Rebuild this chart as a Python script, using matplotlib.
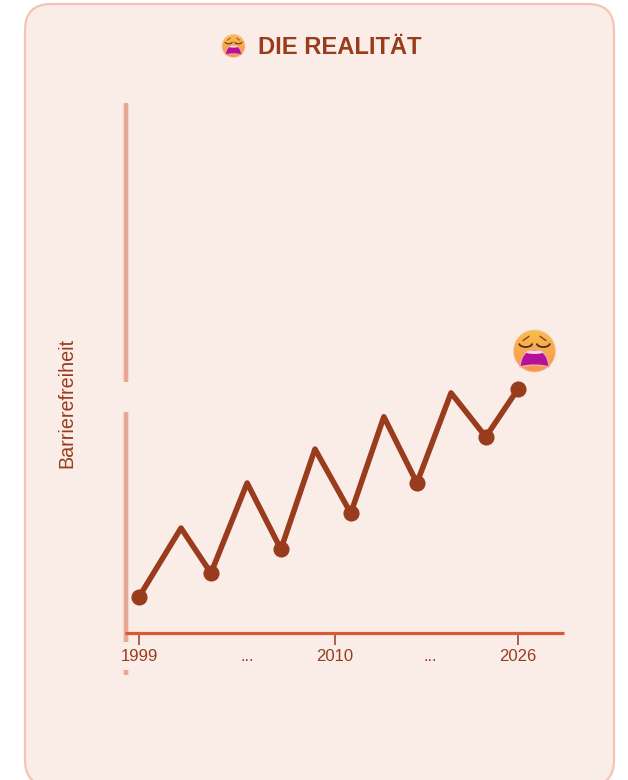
"""Line chart 'Die Realitaet': accessibility creeping up in a saw-tooth, 1999-2026."""
import numpy as np
import matplotlib
matplotlib.use("Agg")
import matplotlib.pyplot as plt
from matplotlib.patches import Arc, Circle, Ellipse, FancyBboxPatch, PathPatch
from matplotlib.path import Path

plt.rcParams["font.family"] = ["Liberation Sans", "DejaVu Sans"]

# x is in "steps along the axis", the year labels are not evenly spaced
x_pos = [0, 1.22, 2.09, 3.14, 4.12, 5.11, 6.15, 7.11, 8.07, 9.06, 10.07, 11.0]
values = [6.8, 19.8, 11.3, 28.3, 15.8, 34.7, 22.6, 40.8, 28.3, 45.3, 37.0, 46.0]
dot_idx = [0, 2, 4, 6, 8, 10, 11]

year_ticks = [0, 5.69, 11.0]
year_labels = ["1999", "2010", "2026"]
gap_ticks = [3.14, 8.45]
gap_label = "..."

title = "DIE REALITÄT"
ylabel = "Barrierefreiheit"

BG = "#FAECE7"
BORDER = "#F5C4B3"
DARK = "#993C1D"
AXIS = "#D85A30"
STRIPE = "#E8A692"

W, H = 628, 780


def emoji(ax, cx, cy, d):
    """Weary face, the reference has it as a colour emoji (no such font here)."""
    r = d / 2
    grad = np.linspace(0, 1, 64)[:, None]
    top, bot = np.array([0.98, 0.74, 0.30]), np.array([0.97, 0.58, 0.30])
    rgb = (top + (bot - top) * grad)[:, None, :]
    im = ax.imshow(rgb, extent=(cx - r, cx + r, cy + r, cy - r), aspect="auto",
                   interpolation="bilinear", zorder=5)
    im.set_clip_path(Circle((cx, cy), r, transform=ax.transData))
    ax.add_patch(Circle((cx, cy), r, fc="none", ec="#f3c9a8", lw=0.6, zorder=6))
    # mouth
    verts = [(cx - .70 * r, cy + .76 * r), (cx - .62 * r, cy - .06 * r),
             (cx, cy - .06 * r), (cx + .62 * r, cy - .06 * r),
             (cx + .70 * r, cy + .76 * r), (cx, cy + .58 * r),
             (cx - .70 * r, cy + .76 * r)]
    codes = [Path.MOVETO, Path.CURVE3, Path.CURVE3, Path.CURVE3, Path.CURVE3,
             Path.CURVE3, Path.CURVE3]
    ax.add_patch(PathPatch(Path(verts, codes), fc="#B4109A", ec="#F4A7A0",
                           lw=d / 40, zorder=7))
    ax.add_patch(Ellipse((cx, cy + .06 * r), .8 * r, .16 * r, fc="#F6D8E0",
                         ec="none", zorder=8))
    # closed eyes and brows
    lw = max(0.6, d / 32)
    for s in (-1, 1):
        ex = cx + s * .42 * r
        ax.add_patch(Arc((ex, cy - .36 * r), .62 * r, .34 * r, theta1=0, theta2=180,
                         color="#4a2f1a", lw=lw, zorder=7))
        ax.plot([ex - .16 * r * s, ex + .12 * r * s],
                [cy - .70 * r, cy - .50 * r],
                color="#7a4a20", lw=lw * .8, zorder=7, solid_capstyle="round")


fig = plt.figure(figsize=(W / 100, H / 100), dpi=100, facecolor="white")

# backdrop in pixel coordinates: card, title, y label, emojis
bg = fig.add_axes([0, 0, 1, 1])
bg.set_xlim(0, W)
bg.set_ylim(H, 0)
bg.axis("off")
bg.add_patch(FancyBboxPatch((25, 4), 589, 782, boxstyle="round,pad=0,rounding_size=26",
                            fc=BG, ec=BORDER, lw=1.6))
bg.text(339.5, 47.5, title, color=DARK, fontsize=17.1, fontweight="bold",
        ha="center", va="center")
bg.text(66.5, 402.5, ylabel, color=DARK, fontsize=14.2, rotation=90,
        ha="center", va="center")
emoji(bg, 233.5, 46, 23)
emoji(bg, 534.5, 351, 42)
bg.set_xlim(0, W)
bg.set_ylim(H, 0)

# chart axes span 125..564 px across, 633..103 px up
ax = fig.add_axes([125 / W, 1 - 633 / H, 439 / W, 530 / H])
ax.patch.set_alpha(0)
ax.set_xlim(-0.406, 12.34)
ax.set_ylim(0, 100)
for s in ax.spines.values():
    s.set_visible(False)

ax.plot(x_pos, values, color=DARK, lw=4.0, solid_joinstyle="round",
        solid_capstyle="round", zorder=4, clip_on=False)
ax.plot([x_pos[i] for i in dot_idx], [values[i] for i in dot_idx], "o", color=DARK,
        ms=11.6, mew=0, zorder=5, clip_on=False)

# broken y axis
yax = ax.get_yaxis_transform()
for y0, y1 in [(100, 47.4), (41.7, -1.7), (-7.0, -8.0)]:
    ax.plot([0.0015, 0.0015], [y0, y1], transform=yax, color=STRIPE, lw=4.4, alpha=.3,
            solid_capstyle="butt", clip_on=False, zorder=2)
    ax.plot([0.0015, 0.0015], [y0, y1], transform=yax, color=STRIPE, lw=2.7,
            solid_capstyle="butt", clip_on=False, zorder=2)

ax.plot([0, 1], [0, 0], transform=ax.transAxes, color=AXIS, lw=2.3,
        solid_capstyle="butt", clip_on=False, zorder=3)

ax.set_yticks([])
ax.set_xticks(year_ticks)
ax.set_xticklabels(year_labels, fontsize=12, color=DARK)
ax.tick_params(axis="x", length=8.6, width=1.1, color=DARK, pad=2.7)
for x in gap_ticks:
    ax.annotate(gap_label, (x, 0), xycoords=ax.get_xaxis_transform(),
                xytext=(0, -20), textcoords="offset points", ha="center", va="baseline",
                fontsize=12, color=DARK, annotation_clip=False)

fig.savefig("out.png", dpi=100, facecolor="white")
